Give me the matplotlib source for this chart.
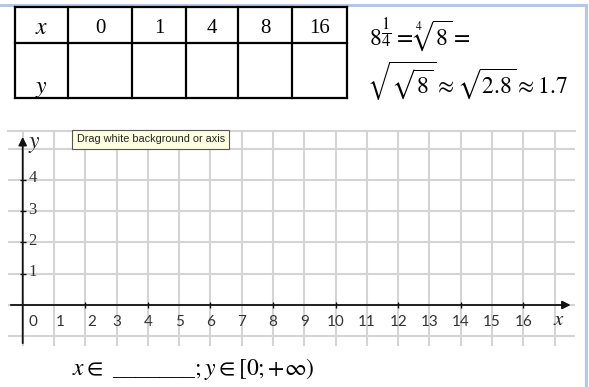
import matplotlib.pyplot as plt
import numpy as np

plt.rcParams['mathtext.fontset'] = 'stix'
plt.rcParams['font.family'] = ['Liberation Serif', 'DejaVu Serif']

# table of the function values to fill in
table_x = [0, 1, 4, 8, 16]
table_y = ['', '', '', '', '']

# grid / axis range of the applet
x_ticks = list(range(0, 17))
y_ticks = [1, 2, 3, 4]
x_range = (-0.47, 17.65)
y_range = (-1.31, 5.56)

formula_1 = r"$8^{\dfrac{1}{4}} = \sqrt[4]{8} =$"
formula_2 = r"$\sqrt{\sqrt{8}} \approx \sqrt{2.8} \approx 1.7$"
domain_text = r"$x \in$ _______$; y \in [0;{+}\infty)$"
tooltip = "Drag white background or axis"

W, H = 589, 387
fig = plt.figure(figsize=(W / 100, H / 100), dpi=100)

# --- coordinate grid (pixel box 8..575 x 131..346)
ax = fig.add_axes([8 / W, 1 - 346 / H, (575 - 8) / W, (346 - 131) / H])
ax.set_xlim(*x_range)
ax.set_ylim(*y_range)
for gx in range(-1, 18):
    ax.axvline(gx, color='#d4d4d4', lw=1.5, zorder=1)
for gy in range(-1, 6):
    ax.axhline(gy, color='#d4d4d4', lw=1.5, zorder=1)
ax.set_xticks([])
ax.set_yticks([])
for s in ['left', 'right', 'bottom']:
    ax.spines[s].set_visible(False)
ax.spines['top'].set_color('#d4d4d4')
ax.spines['top'].set_linewidth(1.5)

# axes with arrows
ax.annotate('', xy=(x_range[1] - 0.05, 0), xytext=(x_range[0], 0),
            arrowprops=dict(arrowstyle='-|>', color='#111111', lw=1.3,
                            mutation_scale=12), zorder=3)
ax.annotate('', xy=(0, y_range[1] - 0.1), xytext=(0, y_range[0]),
            arrowprops=dict(arrowstyle='-|>', color='#111111', lw=1.3,
                            mutation_scale=12), zorder=3)

# small tick marks
even_x = [v for v in x_ticks if v % 2 == 0 and v > 0]
ax.plot(even_x, [0] * len(even_x), ls='none', marker='|', ms=4, color='#111111', zorder=4)
ax.plot([0] * len(y_ticks), y_ticks, ls='none', marker='_', ms=4, color='#111111', zorder=4)

shift = {0: 0.33, 1: 0.19, 2: 0.2}
for v in x_ticks:
    ax.text(v + shift.get(v, 0), -0.54, str(v), ha='center', va='center',
            fontsize=11, family='Lato', color='#333333', zorder=5)
for v in y_ticks:
    ax.text(0.18, v + 0.05, str(v), ha='left', va='center',
            fontsize=12, color='#333333', zorder=5)
ax.text(0.18, 5.12, r"$y$", ha='left', va='center', fontsize=17, color='#222222')
ax.text(17.15, -0.5, r"$x$", ha='center', va='center', fontsize=15, color='#222222')

# tooltip box
ax.text(1.72, 5.29, tooltip, ha='left', va='center', fontsize=7.8,
        family='Liberation Sans', color='#222222', zorder=6,
        bbox=dict(boxstyle='square,pad=0.4', fc='#ffffe1', ec='#555555', lw=0.8))

# --- overlay in pixel coordinates for table, formulas and frame
ov = fig.add_axes([0, 0, 1, 1], facecolor='none')
ov.set_xlim(0, W)
ov.set_ylim(H, 0)
ov.axis('off')

# light blue frame (top and right)
ov.plot([0, 586], [4.5, 4.5], color='#b4c7e7', lw=2.2)
ov.plot([586, 586], [4.5, H], color='#b4c7e7', lw=2.2)

# table
col_edges = [15, 68, 132, 186, 238, 292, 347]
row_edges = [7, 43, 98]
for cx in col_edges:
    ov.plot([cx, cx], [row_edges[0], row_edges[-1]], color='black', lw=1.6)
for ry in row_edges:
    ov.plot([col_edges[0], col_edges[-1]], [ry, ry], color='black', lw=1.6)
ov.text((col_edges[0] + col_edges[1]) / 2, 29, r"$x$", ha='center', va='center', fontsize=17)
ov.text((col_edges[0] + col_edges[1]) / 2, 90, r"$y$", ha='center', va='center', fontsize=17)
for i, (vx, vy) in enumerate(zip(table_x, table_y)):
    cx = (col_edges[i + 1] + col_edges[i + 2]) / 2
    ov.text(cx, 33, str(vx), ha='center', va='baseline', fontsize=15)
    ov.text(cx, 72, vy, ha='center', va='center', fontsize=15)

ov.text(369, 45, formula_1, ha='left', va='baseline', fontsize=17)
ov.text(367, 94, formula_2, ha='left', va='baseline', fontsize=17)
ov.text(72, 375, domain_text, ha='left', va='baseline', fontsize=17)

fig.savefig('out.png', dpi=100)
